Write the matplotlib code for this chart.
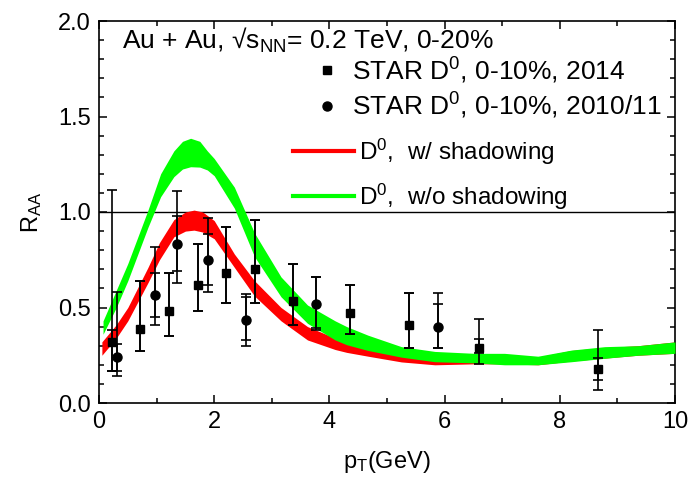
import matplotlib
matplotlib.use("Agg")
import matplotlib.pyplot as plt
import numpy as np
from matplotlib.lines import Line2D
from matplotlib.ticker import MultipleLocator

plt.rcParams['font.family'] = ['Liberation Sans', 'DejaVu Sans']
plt.rcParams['mathtext.fontset'] = 'custom'
plt.rcParams['mathtext.rm'] = 'Liberation Sans'
plt.rcParams['mathtext.it'] = 'Liberation Sans:italic'
plt.rcParams['mathtext.bf'] = 'Liberation Sans:bold'

# STAR D0 2014 (squares): value, outer error limits, inner caps
sq_x = [0.23, 0.72, 1.22, 1.72, 2.20, 2.71, 3.37, 4.35, 5.39, 6.60, 8.67]
sq_y = [0.32, 0.39, 0.48, 0.62, 0.68, 0.70, 0.535, 0.47, 0.41, 0.29, 0.18]
sq_top = [1.115, 0.64, 0.68, 0.835, 0.92, 0.96, 0.73, 0.62, 0.575, 0.44, 0.38]
sq_bot = [0.165, 0.27, 0.35, 0.48, 0.525, 0.525, 0.41, 0.36, 0.29, 0.205, 0.07]
sq_in_top = [0.38, 0.64, 0.68, 0.835, 0.92, 0.96, 0.73, 0.62, 0.575, 0.335, 0.235]
sq_in_bot = [0.165, 0.27, 0.35, 0.48, 0.525, 0.525, 0.41, 0.36, 0.29, 0.26, 0.12]

# STAR D0 2010/11 (circles)
ci_x = [0.31, 0.97, 1.36, 1.90, 2.56, 3.76, 5.88]
ci_y = [0.24, 0.565, 0.83, 0.75, 0.435, 0.52, 0.40]
ci_top = [0.58, 0.815, 1.11, 0.97, 0.57, 0.66, 0.575]
ci_bot = [0.14, 0.41, 0.63, 0.58, 0.30, 0.38, 0.29]
ci_in_top = [0.31, 0.68, 0.98, 0.885, 0.555, 0.66, 0.52]
ci_in_bot = [0.165, 0.45, 0.69, 0.62, 0.33, 0.395, 0.29]

# model bands
red_x = [0.05, 0.3, 0.5, 0.85, 1.05, 1.3, 1.5, 1.65, 1.8, 2.0, 2.35, 2.7, 3.16, 3.62,
         4.1, 4.3, 4.67, 5.25, 5.83, 6.52, 7.04, 7.62, 8.2, 8.78, 9.36, 10.0]
red_lo = [0.25, 0.34, 0.43, 0.63, 0.75, 0.87, 0.90, 0.905, 0.895, 0.86, 0.71, 0.56, 0.43, 0.33,
          0.28, 0.265, 0.245, 0.215, 0.20, 0.205, 0.205, 0.20, 0.22, 0.235, 0.25, 0.26]
red_hi = [0.32, 0.41, 0.50, 0.71, 0.84, 0.96, 1.0, 1.01, 1.0, 0.955, 0.78, 0.64, 0.50, 0.40,
          0.34, 0.32, 0.30, 0.27, 0.25, 0.245, 0.245, 0.24, 0.275, 0.29, 0.30, 0.32]

green_x = [0.07, 0.3, 0.5, 0.85, 1.07, 1.3, 1.45, 1.59, 1.75, 1.88, 2.0, 2.35, 2.7, 3.16, 3.62,
           4.1, 4.3, 4.67, 5.25, 5.83, 6.52, 7.04, 7.62, 8.2, 8.78, 9.36, 10.0]
green_lo = [0.36, 0.50, 0.64, 0.92, 1.08, 1.185, 1.225, 1.237, 1.235, 1.22, 1.19, 1.02, 0.766, 0.556, 0.417,
            0.33, 0.305, 0.275, 0.24, 0.216, 0.21, 0.20, 0.20, 0.216, 0.234, 0.25, 0.26]
green_hi = [0.43, 0.59, 0.73, 1.01, 1.20, 1.32, 1.37, 1.386, 1.37, 1.32, 1.28, 1.13, 0.89, 0.66, 0.513,
            0.43, 0.40, 0.355, 0.295, 0.27, 0.26, 0.26, 0.245, 0.277, 0.295, 0.30, 0.32]

fs = 17

fig = plt.figure(figsize=(6.9, 4.79), dpi=100)
ax = fig.add_axes([99/690, 1 - 403/479, 576/690, 382/479])

ax.fill_between(red_x, red_lo, red_hi, color='#ff0000', lw=0, zorder=2)
ax.fill_between(green_x, green_lo, green_hi, color='#00ff00', lw=0, zorder=3)
ax.axhline(1.0, color='k', lw=1.0, zorder=1)

def draw_points(x, y, top, bot, in_top, in_bot, marker, ms):
    y = np.array(y)
    ax.errorbar(x, y, yerr=[y - np.array(bot), np.array(top) - y], fmt=marker, color='k',
                ms=ms, capsize=3.5, elinewidth=1.2, capthick=1.2, zorder=5)
    ax.errorbar(x, y, yerr=[y - np.array(in_bot), np.array(in_top) - y], fmt='none', ecolor='k',
                capsize=3.5, elinewidth=1.2, capthick=1.2, zorder=5)

draw_points(sq_x, sq_y, sq_top, sq_bot, sq_in_top, sq_in_bot, 's', 6)
draw_points(ci_x, ci_y, ci_top, ci_bot, ci_in_top, ci_in_bot, 'o', 6.5)

ax.set_xlim(0, 10)
ax.set_ylim(0, 2.0)
ax.xaxis.set_major_locator(MultipleLocator(2))
ax.xaxis.set_minor_locator(MultipleLocator(1))
ax.yaxis.set_major_locator(MultipleLocator(0.5))
ax.yaxis.set_minor_locator(MultipleLocator(0.1))
ax.yaxis.set_major_formatter(matplotlib.ticker.FormatStrFormatter('%.1f'))
ax.tick_params(which='both', direction='in', top=True, right=True, width=1.1, labelsize=fs)
ax.tick_params(which='major', length=6, pad=6)
ax.tick_params(which='minor', length=3.5)
for s in ax.spines.values():
    s.set_linewidth(1.2)

ax.set_xlabel(r'p$_\mathrm{T}$(GeV)', fontsize=fs, labelpad=11)
ax.set_ylabel(r'R$_\mathrm{AA}$', fontsize=fs, labelpad=10)

ax.text(0.04, 0.9285, 'Au + Au, \u221as$_\\mathrm{NN}$= 0.2 TeV, 0-20%',
        transform=ax.transAxes, fontsize=19, va='baseline', ha='left')

h1 = [Line2D([], [], marker='s', ls='none', color='k', ms=6),
      Line2D([], [], marker='o', ls='none', color='k', ms=6.5)]
leg1 = ax.legend(h1, [r'STAR D$^0$, 0-10%, 2014', r'STAR D$^0$, 0-10%, 2010/11'],
                 loc='upper left', bbox_to_anchor=(0.375, 0.91), frameon=False,
                 fontsize=19, handlelength=0.9, handletextpad=0.5, borderpad=0,
                 borderaxespad=0, labelspacing=0.2)
ax.add_artist(leg1)

h2 = [Line2D([], [], color='#ff0000', lw=3),
      Line2D([], [], color='#00ff00', lw=3)]
ax.legend(h2, [r'D$^0$,  w/ shadowing', r'D$^0$,  w/o shadowing'],
          loc='upper left', bbox_to_anchor=(0.337, 0.697), frameon=False,
          fontsize=17.5, handlelength=2.5, handletextpad=0.2, borderpad=0,
          borderaxespad=0, labelspacing=0.6)

fig.savefig('out.png', dpi=100)
